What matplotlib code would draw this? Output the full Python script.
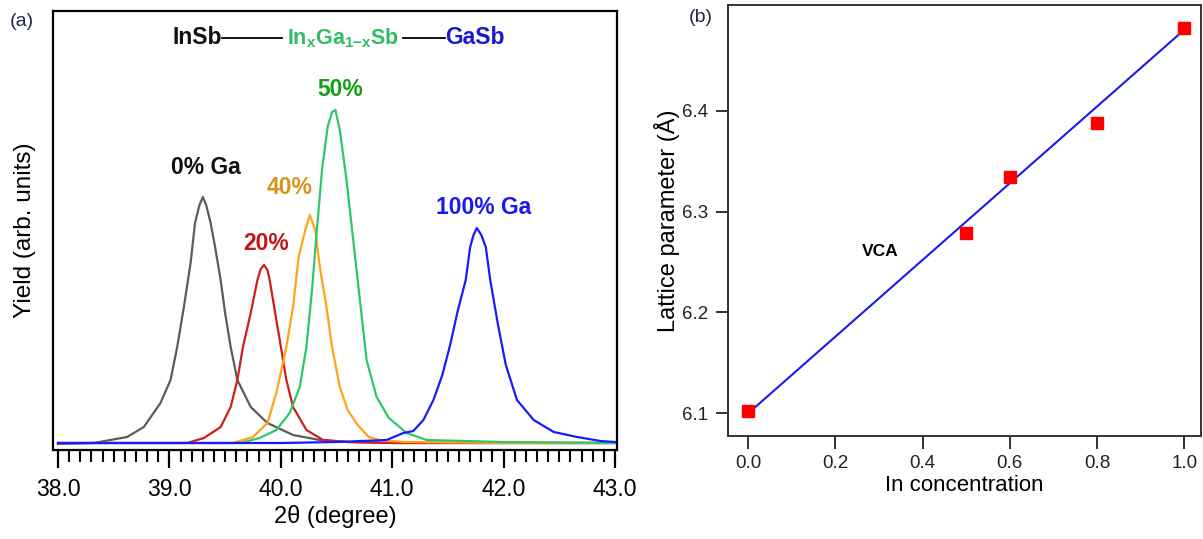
import numpy as np
from matplotlib import pyplot as plt
from matplotlib.ticker import MultipleLocator

plt.rcParams['font.family'] = ['Liberation Sans', 'DejaVu Sans']
plt.rcParams['mathtext.fontset'] = 'custom'
plt.rcParams['mathtext.rm'] = 'Liberation Sans'
plt.rcParams['mathtext.bf'] = 'Liberation Sans:bold'

# (a) XRD scans, 2theta (degree) vs yield (arb. units)
tt_0 = [38.0, 38.32, 38.62, 38.77, 38.92, 39.01, 39.07, 39.13, 39.19, 39.23, 39.27, 39.30,
        39.33, 39.37, 39.41, 39.46, 39.50, 39.55, 39.61, 39.73, 39.88, 40.11, 40.35, 40.6,
        41.0, 42.0, 43.0]
y_0 = [1, 2, 8, 18, 42, 65, 98, 138, 182, 222, 240, 248,
       240, 222, 198, 165, 132, 98, 65, 38, 22, 10, 5, 3,
       2, 2, 2]

tt_20 = [38.0, 39.0, 39.16, 39.31, 39.46, 39.55, 39.61, 39.66, 39.73, 39.79, 39.82, 39.85,
         39.88, 39.90, 39.96, 40.01, 40.05, 40.11, 40.23, 40.38, 40.6, 41.0, 42.0, 43.0]
y_20 = [2, 2, 2, 7, 18, 38, 65, 98, 132, 165, 176, 180,
        175, 165, 125, 92, 65, 38, 15, 5, 3, 2, 2, 2]

tt_40 = [38.0, 39.0, 39.57, 39.75, 39.88, 39.96, 40.05, 40.11, 40.16, 40.22, 40.26,
         40.31, 40.35, 40.41, 40.46, 40.53, 40.60, 40.69, 40.79, 40.89, 41.1, 42.0, 43.0]
y_40 = [2, 2, 2, 8, 22, 52, 98, 138, 188, 215, 230,
        215, 178, 138, 98, 58, 35, 20, 8, 5, 3, 2, 2]

tt_50 = [38.0, 39.0, 39.64, 39.81, 39.96, 40.08, 40.17, 40.23, 40.28, 40.32, 40.37,
         40.42, 40.46, 40.49, 40.53, 40.59, 40.64, 40.69, 40.73, 40.77, 40.86, 40.97,
         41.13, 41.31, 42.0, 43.0]
y_50 = [2, 2, 2, 7, 15, 32, 58, 98, 155, 210, 275,
        318, 333, 335, 315, 265, 215, 165, 125, 85, 48, 27,
        12, 5, 3, 2]

tt_100 = [38.0, 39.0, 40.0, 40.5, 40.95, 41.10, 41.19, 41.28, 41.37, 41.45, 41.52,
          41.59, 41.66, 41.70, 41.73, 41.76, 41.80, 41.84, 41.88, 41.95, 42.02, 42.12,
          42.27, 42.45, 42.66, 42.87, 43.0]
y_100 = [2, 2, 2, 3, 5, 12, 14, 25, 45, 70, 100,
         135, 165, 198, 210, 217, 210, 198, 165, 120, 80, 45,
         25, 13, 8, 4, 3]

# (b) lattice parameter vs In concentration
conc = [0.0, 0.5, 0.6, 0.8, 1.0]
lattice = [6.102, 6.279, 6.334, 6.388, 6.482]
vca_x = [0.0, 1.0]
vca_y = [6.100, 6.480]

fig = plt.figure(figsize=(12.03, 5.39), dpi=100)
W, H = 1203., 539.

# ---- panel (a)
ax1 = fig.add_axes([53/W, 89/H, 564/W, 439/H])
curves = [(tt_0, y_0, '#5c5c5c'), (tt_20, y_20, '#cc1f1f'),
          (tt_40, y_40, '#ffa31a'), (tt_50, y_50, '#2ec866'),
          (tt_100, y_100, '#1a1aff')]
for tt, yy, c in curves:
    ax1.plot(tt, yy, color=c, lw=1.6)

ax1.set_xlim(38 - 5/111.3, 43 + 2/111.3)
ax1.set_ylim(-5, 434)
ax1.set_yticks([])
ax1.set_xticks(np.arange(38, 43.01, 1.0))
ax1.set_xticklabels(['%.1f' % v for v in np.arange(38, 43.01, 1.0)], fontsize=16.5)
ax1.xaxis.set_minor_locator(MultipleLocator(0.1))
ax1.tick_params(axis='x', which='major', direction='out', length=13, width=1.6, pad=7)
ax1.tick_params(axis='x', which='minor', direction='out', length=8.5, width=1.5)
for sp in ax1.spines.values():
    sp.set_linewidth(1.6)
ax1.set_xlabel('2θ (degree)', fontsize=17, labelpad=3)
ax1.set_ylabel('Yield (arb. units)', fontsize=17.5, labelpad=12)

lab = dict(fontsize=16.5, fontweight='bold', ha='center', va='center')
ax1.text(39.33, 277, '0% Ga', color='#111111', **lab)
ax1.text(39.87, 202, '20%', color='#c01818', **lab)
ax1.text(40.08, 258, '40%', color='#d4961a', **lab)
ax1.text(40.53, 355, '50%', color='#12a012', **lab)
ax1.text(41.82, 237, '100% Ga', color='#1a1aee', **lab)

# header: InSb --- InxGa1-xSb --- GaSb
ty = (450 - 38) / 439.
ax1.text((222-53)/564., ty, 'InSb', transform=ax1.transAxes, ha='right', va='center',
         fontsize=16.5, fontweight='bold', color='#111111')
ax1.plot([(222-53)/564., (282-53)/564.], [ty, ty], transform=ax1.transAxes,
         color='black', lw=1.3)
ax1.text((287-53)/564., ty, r'$\mathbf{In_{x}Ga_{1{-}x}Sb}$', transform=ax1.transAxes,
         ha='left', va='center', fontsize=15.5, color='#33bb66')
ax1.plot([(403-53)/564., (445-53)/564.], [ty, ty], transform=ax1.transAxes,
         color='black', lw=1.3)
ax1.text((445-53)/564., ty, 'GaSb', transform=ax1.transAxes, ha='left', va='center',
         fontsize=16.5, fontweight='bold', color='#1a1acc')

# ---- panel (b)
ax2 = fig.add_axes([728/W, 103/H, 473/W, 431/H])
ax2.plot(vca_x, vca_y, color='#1a1aee', lw=1.5, zorder=2)
ax2.plot(conc, lattice, 's', color='#ff0000', ms=9, zorder=3)
ax2.set_xlim(-0.0459, 1.0383)
ax2.set_ylim(6.0777, 6.5045)
ax2.set_xticks([0.0, 0.2, 0.4, 0.6, 0.8, 1.0])
ax2.set_xticklabels(['0.0', '0.2', '0.4', '0.6', '0.8', '1.0'], fontsize=13.5)
ax2.set_yticks([6.1, 6.2, 6.3, 6.4])
ax2.set_yticklabels(['6.1', '6.2', '6.3', '6.4'], fontsize=13.5)
ax2.tick_params(direction='out', length=9, width=1.3, pad=5, colors='#222222')
for sp in ax2.spines.values():
    sp.set_linewidth(1.4)
    sp.set_color('#333333')
ax2.set_xlabel('In concentration', fontsize=16, labelpad=2)
ax2.set_ylabel('Lattice parameter (Å)', fontsize=17, labelpad=2)
ax2.text(0.302, 6.26, 'VCA', fontsize=12.5, fontweight='bold', ha='center', va='center')

fig.text(22/W, 1 - 22/H, '(a)', fontsize=14, ha='center', va='center', color='#1f2a44')
fig.text(701/W, 1 - 18/H, '(b)', fontsize=14, ha='center', va='center', color='#1f2a44')

plt.savefig('out.png', dpi=100)
